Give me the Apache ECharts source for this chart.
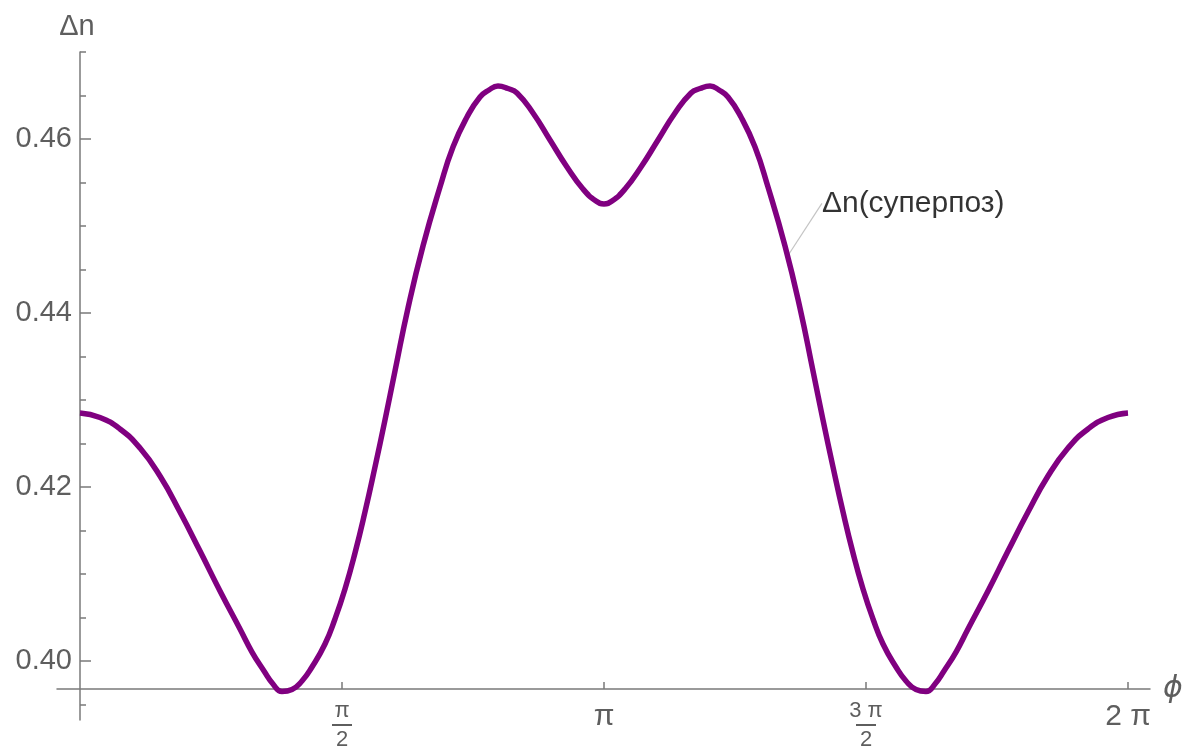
<!DOCTYPE html>
<html>
<head>
<meta charset="utf-8">
<script src="https://cdn.jsdelivr.net/npm/echarts@6/dist/echarts.min.js"></script>
<style>
  html, body { margin: 0; padding: 0; background: #ffffff; }
  #chart { width: 1191px; height: 751px; }
</style>
</head>
<body>
<div id="chart"></div>
<script>
// ---- data ----
const phi = [
  0.00000, 0.11991, 0.23981, 0.35972, 0.47963, 0.59953, 0.71944, 0.83935, 0.95925, 1.03120,
  1.10314, 1.15710, 1.21106, 1.27101, 1.33097, 1.39092, 1.46886, 1.52881, 1.58877, 1.64872,
  1.70867, 1.76863, 1.82858, 1.88853, 1.96647, 2.05640, 2.15832, 2.23626, 2.32020, 2.39814,
  2.45209, 2.50605, 2.56601, 2.61996, 2.71589, 2.81781, 2.91973, 3.01566, 3.09360, 3.14159,
  3.18959, 3.26753, 3.36346, 3.46538, 3.56730, 3.66323, 3.71718, 3.77714, 3.83110, 3.88505,
  3.96299, 4.04693, 4.12487, 4.22679, 4.31672, 4.39466, 4.45461, 4.51456, 4.57452, 4.63447,
  4.69442, 4.75438, 4.81433, 4.89227, 4.95222, 5.01218, 5.07213, 5.12609, 5.18005, 5.25199,
  5.32394, 5.44384, 5.56375, 5.68366, 5.80356, 5.92347, 6.04338, 6.16328, 6.28319
];
const dn = [
  0.42851, 0.42799, 0.42667, 0.42448, 0.42126, 0.41713, 0.41264, 0.40805, 0.40368, 0.40103,
  0.39885, 0.39736, 0.39649, 0.39672, 0.39770, 0.39931, 0.40195, 0.40483, 0.40828, 0.41241,
  0.41713, 0.42230, 0.42770, 0.43333, 0.44057, 0.44770, 0.45448, 0.45908, 0.46253, 0.46483,
  0.46563, 0.46609, 0.46580, 0.46529, 0.46299, 0.45989, 0.45678, 0.45425, 0.45287, 0.45253,
  0.45287, 0.45425, 0.45678, 0.45989, 0.46299, 0.46529, 0.46580, 0.46609, 0.46563, 0.46483,
  0.46253, 0.45908, 0.45448, 0.44770, 0.44057, 0.43333, 0.42770, 0.42230, 0.41713, 0.41241,
  0.40828, 0.40483, 0.40195, 0.39931, 0.39770, 0.39672, 0.39649, 0.39736, 0.39885, 0.40103,
  0.40368, 0.40805, 0.41264, 0.41713, 0.42126, 0.42448, 0.42667, 0.42799, 0.42851
];
const curveName = 'Δn(суперпоз)';
const labelPhi = [4.2412];
const labelDn = [0.4465];

const xTickValues = [Math.PI / 2, Math.PI, 3 * Math.PI / 2, 2 * Math.PI];
const xTickLabels = ['{n|π}\n{bar| }\n{d|2}', '{big|π}', '{n|3 π}\n{bar| }\n{d|2}', '{big|2 π}'];
const yMinorTicks = [0.395, 0.400, 0.405, 0.410, 0.415, 0.420, 0.425, 0.430, 0.435, 0.440, 0.445, 0.450, 0.455, 0.460, 0.465, 0.470];
const yMajorTicks = [0.40, 0.42, 0.44, 0.46];
const yTickLabels = ['0.40', '0.42', '0.44', '0.46'];
const xName = 'ϕ';
const yName = 'Δn';

// ---- chart ----
const axisGray = '#7a7a7a';
const textGray = '#5e5e5e';
const font = 'Liberation Sans, Arial, sans-serif';

const chart = echarts.init(document.getElementById('chart'), null, { renderer: 'canvas' });

const option = {
  animation: false,
  backgroundColor: '#ffffff',
  grid: [
    { left: 80, right: 63, top: 52, bottom: 31, containLabel: false },
    { left: 57, right: 41, top: 52, bottom: 58, containLabel: false }
  ],
  xAxis: [
    { type: 'value', gridIndex: 0, min: 0, max: 2 * Math.PI, show: false },
    {
      type: 'value', gridIndex: 1, min: -0.13789, max: 6.41497,
      name: xName, nameLocation: 'end', nameGap: 13,
      nameTextStyle: { fontSize: 30, color: textGray, fontStyle: 'italic', fontFamily: 'DejaVu Sans', verticalAlign: 'middle' },
      axisLine: { show: true, onZero: false, lineStyle: { color: axisGray, width: 1.5 } },
      axisTick: { show: true, inside: true, length: 7, customValues: xTickValues, lineStyle: { color: axisGray, width: 1.5 } },
      axisLabel: {
        show: true, margin: 11, customValues: xTickValues,
        formatter: (v, i) => {
          let k = xTickValues.findIndex(t => Math.abs(t - v) < 1e-6);
          if (k < 0) k = i;
          return xTickLabels[k] || '';
        },
        rich: {
          n: { fontSize: 22, lineHeight: 22, color: textGray, fontFamily: font, align: 'center' },
          bar: { fontSize: 2, lineHeight: 6, height: 2, width: 20, backgroundColor: textGray, align: 'center' },
          d: { fontSize: 22, lineHeight: 24, color: textGray, fontFamily: font, align: 'center' },
          big: { fontSize: 30, lineHeight: 34, color: textGray, fontFamily: font, align: 'center' }
        }
      },
      splitLine: { show: false }
    }
  ],
  yAxis: [
    {
      type: 'value', gridIndex: 0, min: 0.393218, max: 0.47, position: 'left',
      name: yName, nameLocation: 'end', nameGap: 11,
      nameTextStyle: { fontSize: 29, color: textGray, fontFamily: font, align: 'center', padding: [0, 6, 0, 0] },
      axisLine: { show: true, onZero: false, lineStyle: { color: axisGray, width: 1.5 } },
      axisTick: { show: true, inside: true, length: 6, customValues: yMinorTicks, lineStyle: { color: axisGray, width: 1.5 } },
      axisLabel: { show: false },
      splitLine: { show: false }
    },
    {
      type: 'value', gridIndex: 0, min: 0.393218, max: 0.47, position: 'left', offset: 0,
      axisLine: { show: false },
      axisTick: { show: true, inside: true, length: 11, customValues: yMajorTicks, lineStyle: { color: axisGray, width: 1.5 } },
      axisLabel: {
        show: true, margin: 8, customValues: yMajorTicks,
        formatter: (v) => {
          const k = yMajorTicks.findIndex(t => Math.abs(t - v) < 1e-6);
          return k >= 0 ? yTickLabels[k] : '';
        },
        fontSize: 29, color: textGray, fontFamily: font
      },
      splitLine: { show: false }
    },
    { type: 'value', gridIndex: 1, min: 0, max: 1, show: false }
  ],
  series: [
    {
      type: 'line', xAxisIndex: 0, yAxisIndex: 0,
      data: phi.map((p, i) => [p, dn[i]]),
      showSymbol: false, smooth: 0.5, clip: false,
      lineStyle: { color: '#800080', width: 5.5, cap: 'butt', join: 'round' },
      z: 5
    },
    {
      type: 'scatter', xAxisIndex: 0, yAxisIndex: 0,
      data: labelPhi.map((p, i) => [p, labelDn[i]]),
      symbolSize: 1, itemStyle: { color: 'rgba(0,0,0,0)' },
      label: {
        show: true, position: 'right', distance: 5, formatter: curveName,
        fontSize: 30, color: '#000000', fontFamily: font
      },
      labelLayout: { dx: 29, dy: -53 },
      labelLine: { show: true, lineStyle: { color: '#c4c4c4', width: 1.2 } },
      z: 4
    }
  ]
};
chart.setOption(option);
</script>
</body>
</html>
